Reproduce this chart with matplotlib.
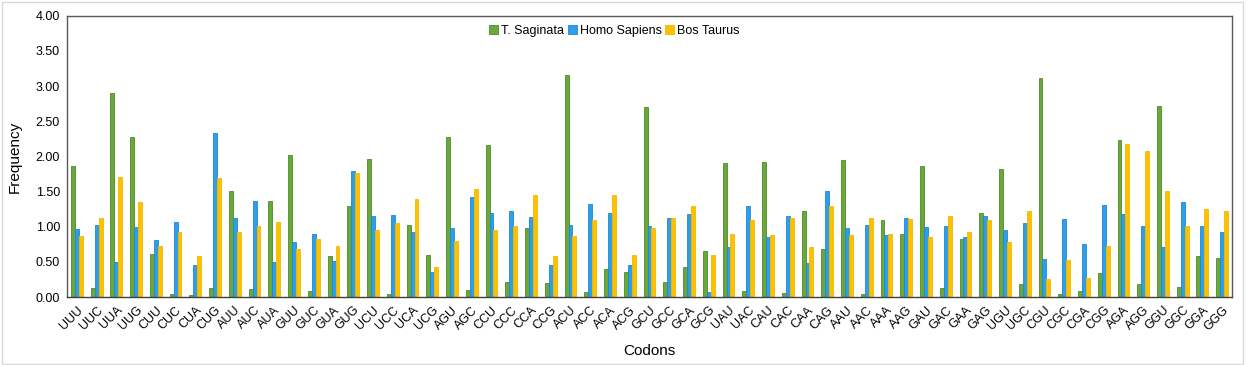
import numpy as np
import matplotlib.pyplot as plt
from matplotlib.patches import Rectangle

plt.rcParams['font.family'] = ['Liberation Sans', 'DejaVu Sans']

codons = ["UUU", "UUC", "UUA", "UUG", "CUU", "CUC", "CUA", "CUG", "AUU", "AUC",
          "AUA", "GUU", "GUC", "GUA", "GUG", "UCU", "UCC", "UCA", "UCG", "AGU",
          "AGC", "CCU", "CCC", "CCA", "CCG", "ACU", "ACC", "ACA", "ACG", "GCU",
          "GCC", "GCA", "GCG", "UAU", "UAC", "CAU", "CAC", "CAA", "CAG", "AAU",
          "AAC", "AAA", "AAG", "GAU", "GAC", "GAA", "GAG", "UGU", "UGC", "CGU",
          "CGC", "CGA", "CGG", "AGA", "AGG", "GGU", "GGC", "GGA", "GGG"]

t_saginata = [1.87, 0.13, 2.90, 2.28, 0.61, 0.04, 0.03, 0.13, 1.51, 0.11,
              1.37, 2.02, 0.09, 0.59, 1.30, 1.96, 0.04, 1.02, 0.60, 2.28,
              0.10, 2.16, 0.21, 0.98, 0.20, 3.16, 0.07, 0.40, 0.36, 2.70,
              0.22, 0.43, 0.65, 1.91, 0.09, 1.92, 0.06, 1.22, 0.68, 1.95,
              0.05, 1.10, 0.90, 1.87, 0.13, 0.82, 1.19, 1.82, 0.18, 3.11,
              0.05, 0.08, 0.34, 2.23, 0.19, 2.72, 0.14, 0.59, 0.55]

homo_sapiens = [0.97, 1.03, 0.50, 1.00, 0.81, 1.07, 0.46, 2.33, 1.13, 1.37,
                0.50, 0.79, 0.90, 0.52, 1.79, 1.15, 1.17, 0.93, 0.36, 0.98,
                1.42, 1.20, 1.22, 1.14, 0.45, 1.03, 1.32, 1.19, 0.46, 1.01,
                1.12, 1.18, 0.07, 0.71, 1.29, 0.85, 1.15, 0.49, 1.51, 0.98,
                1.02, 0.88, 1.12, 0.99, 1.01, 0.85, 1.15, 0.95, 1.05, 0.54,
                1.11, 0.76, 1.31, 1.18, 1.01, 0.71, 1.35, 1.01, 0.93]

bos_taurus = [0.87, 1.13, 1.71, 1.35, 0.73, 0.93, 0.58, 1.69, 0.92, 1.01,
              1.07, 0.69, 0.82, 0.72, 1.76, 0.95, 1.06, 1.40, 0.43, 0.80,
              1.53, 0.95, 1.01, 1.45, 0.59, 0.87, 1.09, 1.45, 0.60, 0.98,
              1.13, 1.30, 0.60, 0.90, 1.10, 0.88, 1.12, 0.71, 1.29, 0.88,
              1.13, 0.90, 1.11, 0.85, 1.15, 0.92, 1.09, 0.78, 1.22, 0.26,
              0.53, 0.27, 0.73, 2.17, 2.08, 1.51, 1.01, 1.25, 1.23]

x = np.arange(len(codons))
w = 0.2

fig = plt.figure(figsize=(12.47, 3.65), dpi=100)
ax = fig.add_axes([0.0537, 0.186, 0.9343, 0.771])

ax.bar(x - w, t_saginata, w, color='#6AA839', edgecolor='#4E8B2A', linewidth=0.6, label='T. Saginata')
ax.bar(x, homo_sapiens, w, color='#2E9FE6', edgecolor='#1E88D8', linewidth=0.6, label='Homo Sapiens')
ax.bar(x + w, bos_taurus, w, color='#FFC000', edgecolor='#F5B800', linewidth=0.6, label='Bos Taurus')

ax.set_xlim(-0.5, len(codons) - 0.5)
ax.set_ylim(0, 4)
yt = np.arange(0, 4.01, 0.5)
ax.set_yticks(yt)
ax.set_yticklabels([f"{v:.2f}" for v in yt], fontsize=9)
ax.set_xticks(x)
ax.set_xticklabels(codons, rotation=45, ha='right', rotation_mode='anchor', fontsize=9)
ax.tick_params(length=0, pad=5)
for s in ax.spines.values():
    s.set_color('#595959')
    s.set_linewidth(1)
ax.spines['bottom'].set_color('#404040')

ax.set_ylabel('Frequency', fontsize=11, labelpad=10)
ax.set_xlabel('Codons', fontsize=11, labelpad=8)

ax.legend(loc='center', bbox_to_anchor=(0.47, 0.946), ncol=3, frameon=False,
          fontsize=9, handlelength=0.7, handleheight=0.7, handletextpad=0.25,
          columnspacing=0.3)

fig.patches.append(Rectangle((0.002, 0.004), 0.995, 0.99, transform=fig.transFigure,
                             fill=False, edgecolor='#d9d9d9', linewidth=1))

fig.savefig('out.png', dpi=100)
